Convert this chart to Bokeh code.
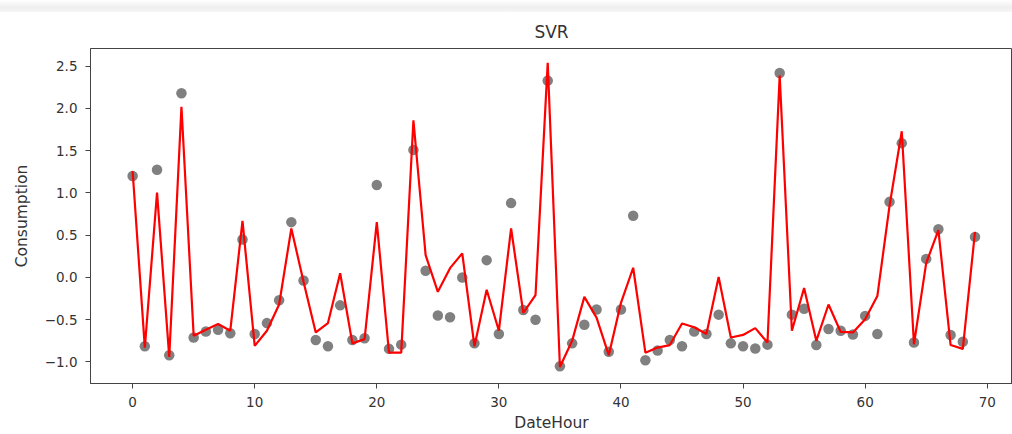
from bokeh.plotting import figure
from bokeh.models import Range1d, SingleIntervalTicker, CustomJSTickFormatter, Div
from bokeh.layouts import column
from bokeh.embed import file_html
from bokeh.resources import INLINE

# Hour index of the test window
date_hour = list(range(70))

# Observed (scaled) consumption
actual = [1.20, -0.815, 1.275, -0.92, 2.18, -0.71, -0.64, -0.62, -0.66, 0.45,
          -0.67, -0.54, -0.27, 0.655, -0.035, -0.74, -0.815, -0.33, -0.74, -0.72,
          1.095, -0.845, -0.795, 1.51, 0.08, -0.45, -0.47, 0.0, -0.78, 0.205,
          -0.67, 0.88, -0.385, -0.50, 2.33, -1.05, -0.78, -0.56, -0.38, -0.88,
          -0.38, 0.73, -0.98, -0.865, -0.74, -0.815, -0.64, -0.67, -0.44, -0.78,
          -0.815, -0.84, -0.795, 2.42, -0.44, -0.37, -0.80, -0.61, -0.63, -0.675,
          -0.455, -0.67, 0.895, 1.59, -0.77, 0.22, 0.57, -0.68, -0.76, 0.48]

# SVR predictions
predicted = [1.26, -0.83, 1.005, -0.94, 2.02, -0.69, -0.62, -0.55, -0.63, 0.67,
             -0.81, -0.63, -0.32, 0.58, -0.05, -0.65, -0.54, 0.05, -0.78, -0.73,
             0.655, -0.89, -0.89, 1.86, 0.265, -0.17, 0.11, 0.285, -0.815, -0.145,
             -0.63, 0.58, -0.42, -0.21, 2.54, -1.06, -0.75, -0.23, -0.475, -0.92,
             -0.30, 0.115, -0.89, -0.83, -0.80, -0.545, -0.59, -0.67, 0.005, -0.71,
             -0.68, -0.60, -0.77, 2.39, -0.63, -0.125, -0.75, -0.32, -0.645, -0.65,
             -0.495, -0.22, 0.85, 1.73, -0.79, 0.17, 0.56, -0.80, -0.845, 0.54]

FONT = "DejaVu Sans"
INK = "#333333"

p = figure(width=1012, height=422, output_backend="svg", toolbar_location=None,
           title="SVR",
           x_range=Range1d(-3.45, 72.07), y_range=Range1d(-1.255, 2.71),
           min_border_left=90, min_border_right=0, min_border_top=34,
           min_border_bottom=49)

p.scatter(date_hour, actual, size=10.5, color="#808080", line_color=None)
p.line(date_hour, predicted, line_width=2.2, color="#ff0000")

p.title.align = "center"
p.title.text_font = FONT
p.title.text_font_size = "17px"
p.title.text_font_style = "normal"
p.title.text_color = INK
p.title.standoff = 14

p.xgrid.visible = False
p.ygrid.visible = False
p.outline_line_color = "#444444"
p.background_fill_color = "white"
p.border_fill_color = "white"

p.xaxis.ticker = SingleIntervalTicker(interval=10)
p.yaxis.ticker = SingleIntervalTicker(interval=0.5)
p.yaxis.formatter = CustomJSTickFormatter(
    code="return tick.toFixed(1).replace('-', '\u2212');")
p.xaxis.axis_label = "DateHour"
p.yaxis.axis_label = "Consumption"

for ax in (p.xaxis, p.yaxis):
    ax.axis_line_color = "#444444"
    ax.major_tick_line_color = "#444444"
    ax.major_tick_out = 5
    ax.major_tick_in = 0
    ax.minor_tick_line_color = None
    ax.major_label_text_font = FONT
    ax.major_label_text_font_size = "13.5px"
    ax.major_label_text_color = INK
    ax.axis_label_text_font = FONT
    ax.axis_label_text_font_size = "15.5px"
    ax.axis_label_text_font_style = "normal"
    ax.axis_label_text_color = INK

p.xaxis.major_label_standoff = 8
p.xaxis.axis_label_standoff = 4
p.yaxis.major_label_standoff = 8
p.yaxis.axis_label_standoff = 11

# faint shadow strip along the top of the page
strip = Div(text="", width=1012, height=12, margin=0,
            styles={"background": "linear-gradient(to bottom, #ffffff 0%, #efefef 60%, #f6f6f6 100%)"})

layout = column(strip, p, spacing=0)
open("out.html", "w").write(file_html(layout, INLINE))
